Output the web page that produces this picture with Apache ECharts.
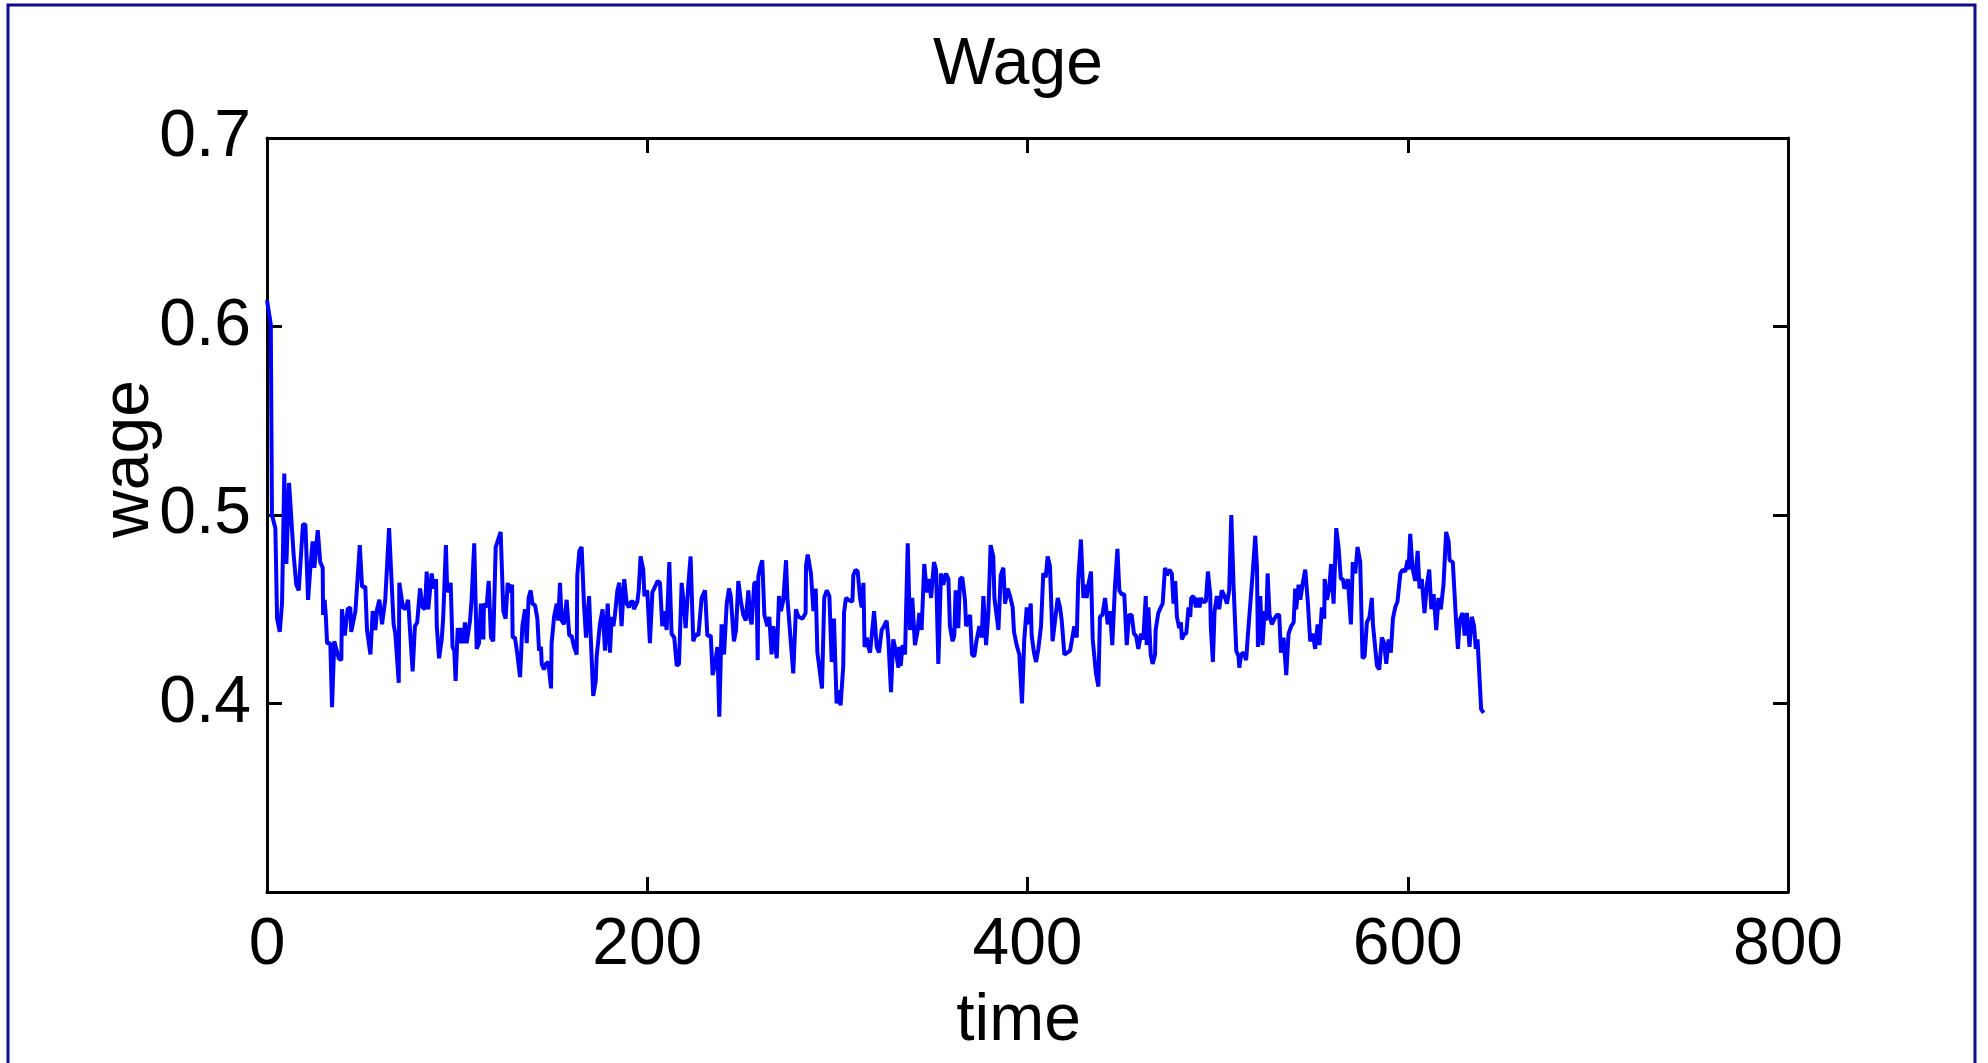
<!DOCTYPE html>
<html>
<head>
<meta charset="utf-8">
<title>Wage</title>
<script src="https://cdn.jsdelivr.net/npm/echarts@6/dist/echarts.min.js"></script>
<style>
	html, body { margin: 0; padding: 0; background: #fff; }
	#main { width: 1988px; height: 1063px; }
</style>
</head>
<body>
<div id="main"></div>
<script>
// time (x) of each vertex
var time = [
	0, 2, 2.6, 4.4, 5.3, 6.7, 7.9, 9.1, 10.2, 11.6, 14, 15.4, 16.7, 18.9, 20.2, 21.6, 22.8, 24, 24.9, 26.7,
	28, 29.3, 29.5, 30.3, 30.9, 31.6, 33.3, 34.2, 35.4, 37.7, 39.1, 39.4, 40.9, 42.4, 43.8, 44.3, 46.5, 48.8, 50, 51.7,
	52.6, 54.4, 55.6, 57, 57.9, 59.1, 60.5, 62.2, 64.2, 66.6, 67.5, 69.3, 69.6, 71.5, 72.8, 74.2, 76.6,
	77.8, 79, 80.5, 81.9, 83.1, 84, 84.8, 86.6, 87.8, 88.9, 89.3, 90.5, 91.9, 92.7, 94.1, 94.8, 95.4, 96.6, 97.6, 98.5,
	99.2, 100.3, 101.5, 102.4, 103.3, 104.1, 105, 105.9, 106.8, 107.6, 109, 110.3, 111.5, 112.5, 113.8, 114.1, 115.5, 116.6, 117.8, 119,
	120.3, 121.3, 122.9, 124.3, 125.5, 126.6, 127.5, 128.9, 129.2, 130.4, 131.7, 133.1, 134.3, 135.7, 136.6, 137.6, 138.7, 139.6, 141, 142.2,
	143.1, 144.1, 144.5, 145.7, 146.7, 148, 149.4, 149.7, 151, 152.4, 153.2,
	154.1, 155, 156.2, 157.6, 159, 160.2, 161.5, 162.9, 163.2, 164.3, 165.5, 166.7, 167.8, 169.4, 170.2, 171.6, 172.9, 173.4, 175.1, 176.5,
	177.8, 179.2, 180.4, 181.3, 182.2, 183, 184.3, 185.3, 186.5, 187.9, 189.2, 190.4, 191.4, 192.7, 193, 194.8, 195.5, 196.5, 197.9, 198.5,
	200, 201.4, 202.7, 204.1, 205.5, 206.7, 207.9, 209, 210.2, 211.6, 212.8, 214.2, 215.5, 216.7, 218.1, 219, 220.2, 221.6, 222.8, 224.2,
	225.6, 226.9, 228.6, 230.4, 231.6, 233.4,
	234.4, 235.6, 236.9, 237.9, 239.1, 240.4, 241.8, 243, 243.9, 245.6, 246.7, 247.9, 249.3, 250.5, 251.8, 253.2, 254, 254.9, 256.3, 257.5,
	258.1, 258.4, 259.3, 260.5, 261.6, 263.2, 264.2, 265.4, 266.3, 267.2, 268.1, 269.3, 270.3, 271.6, 273, 273.7, 274.7, 276.8, 278.2, 279.5,
	281.7, 283.3, 283.5, 284.4, 286.1, 287.4, 288.6, 289.5, 290.5, 291.9, 293.1, 294.4, 295.8, 297, 298.2, 299.6, 300.5, 301.7, 303.1, 303.5,
	304.5, 305.8, 306.6, 307.9, 308.4, 309.6, 310.7, 311.9, 312.8, 313.7,
	314.3, 315.4, 316.3, 317.2, 318.2, 319.3, 320.7, 321.9, 323.3, 324.5, 325.9, 326.8, 328.2, 329.4, 330.7, 332.1, 332.6, 333.3, 334.3, 335.6,
	337, 338.2, 339.4, 340.8, 342.1, 343.1, 344.3, 345.7, 347, 348.2, 349.3, 350.8, 351.9, 353.1, 354.5, 355.7, 357.1, 358.4, 359.2, 360.6,
	361.5, 362.2, 363.6, 364.5, 365.7, 367.1, 367.7, 368.5, 369.8, 370.8, 372, 373.3, 374.7, 375.9, 376.8, 378.2, 379.4, 380.6, 382, 382.6,
	383.4, 384.7, 385.9, 387.3, 388.2, 389.6, 390.8,
	392.2, 392.9, 394.3, 395.7, 397.1, 398.3, 399.6, 400.4, 401.7, 402.2, 403.4, 404.5, 405.7, 407.1, 408.3, 409.6, 410.6, 411.8, 413.2, 414.5,
	415.9, 417.1, 418, 419.4, 421, 422.4, 423.2, 424.6, 425.9, 426.7, 428.1, 429.4, 430.3, 431.1, 432, 433.4, 434.3, 436, 437.3, 438.1,
	439.4, 440.8, 441.7, 442.2, 443.4, 444.6, 446, 447.3, 448.3, 449.5, 450.9, 452.2, 453.4, 454.8, 456, 457.1, 458.3, 459.7, 460.9, 462.2,
	462.7, 463.6, 464.8, 465.8, 467.1, 467.4, 468.8, 470.1, 471.1,
	472.3, 473.3, 474.7, 475.9, 476.8, 477.7, 478.6, 479.8, 480.7, 481.2, 482.4, 483.5, 484.7, 485.6, 486.1, 487.3, 488.6, 489.6, 490.5, 491.2,
	492.2, 493.8, 494.9, 496.1, 496.4, 497.5, 498.4, 499.6, 500.8, 502.2, 503.6, 504.9, 506.1, 507.2, 508.4, 509.8, 511, 511.4, 512.4, 513.6,
	515, 515.9, 517.5, 518.5, 519.8, 520.7, 521.2, 522.4, 523.6, 524.7, 525.6, 526.3, 527.3, 528.5, 529.9, 531.2, 532.4, 533.3, 534.7, 536.1,
	537.3, 538.7, 540, 540.8, 541.3, 542.6, 543.5, 544.8, 546.1, 547.5,
	548.7, 550.1, 551.3, 552.6, 553.6, 554.8, 556.1, 556.3, 557.5, 558.7, 559.7, 561, 562.4, 563.6, 564.8, 565.9, 566.6, 567.6, 568.5, 570.1,
	571.1, 572.4, 573.6, 575, 576.2, 577.3, 578.5, 579.9, 581.1, 581.7, 582.5, 583.8, 585, 586.4, 587.6, 588.7, 589.9, 591.1, 592.2, 593.4,
	594.6, 596.1, 597.3, 598.7, 599.9, 600.4, 601.3, 602.5, 603.9, 605.2, 606.2, 607.4, 608.8, 610.1, 611.3, 612.4, 613.6, 615, 616.2, 617.4,
	618.8, 620.2, 621.5, 622, 623.7, 624.4, 625.5, 626.4, 627.3, 628.8, 629.9, 631.1, 632.5, 633.7, 634.9, 635.8, 636.7, 638.6, 639.9
];
// wage value at each of those times
var wage = [
	.614, .601, .500, .493, .445, .438, .453, .522, .474, .517, .479, .463, .460, .495, .495, .455, .472, .486, .472, .492,
	.475, .472, .447, .455, .447, .432, .432, .398, .433, .424, .423, .450, .436, .450, .451, .438, .449, .484, .462, .462,
	.439, .426, .449, .439, .450, .455, .442, .455, .493, .442, .437, .411, .464, .451, .450, .455, .417,
	.441, .443, .461, .451, .450, .470, .450, .469, .461, .466, .441, .424, .434, .446, .484, .459, .458, .464, .430, .428,
	.412, .440, .432, .440, .432, .443, .432, .431, .444, .455, .485, .429, .432, .453, .434, .453, .451, .465, .435, .433,
	.483, .483, .491, .449, .445, .464, .459, .463, .435, .435, .426, .414, .441, .450, .432, .456, .460, .453, .452, .445,
	.428, .430, .421, .418, .421, .422, .408, .432, .446, .453, .444,
	.464, .444, .442, .455, .436, .436, .430, .426, .468, .481, .483, .453, .435, .457, .437, .404, .412, .425, .442, .450,
	.428, .453, .427, .446, .441, .447, .460, .464, .441, .466, .453, .451, .454, .454, .450, .454, .460, .478, .471, .457,
	.460, .432, .459, .462, .465, .464, .441, .449, .439, .475, .437, .435, .420, .421, .464, .455, .440, .463, .478, .433,
	.437, .436, .456, .460, .436, .436,
	.415, .421, .430, .393, .442, .426, .453, .461, .457, .433, .439, .465, .454, .447, .444, .460, .446, .442, .464, .464,
	.423, .467, .472, .476, .447, .441, .446, .426, .441, .442, .424, .457, .449, .455, .476, .456, .455, .416, .450, .446,
	.445, .448, .473, .479, .469, .449, .461, .427, .427, .408, .456, .460, .457, .422, .445, .400, .407, .399, .420, .448,
	.456, .455, .456, .454, .468, .471, .470, .456, .451, .464,
	.430, .435, .430, .427, .426, .449, .430, .427, .439, .441, .444, .434, .406, .434, .428, .419, .430, .420, .431, .426,
	.485, .439, .456, .431, .438, .448, .439, .474, .459, .466, .456, .475, .471, .421, .469, .463, .469, .466, .441, .433,
	.436, .460, .440, .466, .467, .455, .441, .442, .447, .426, .425, .434, .441, .435, .457, .431, .448, .484, .478, .456,
	.456, .439, .468, .472, .453, .461, .457,
	.451, .438, .431, .426, .400, .434, .451, .442, .453, .436, .427, .422, .429, .441, .469, .467, .478, .473, .433, .444,
	.456, .451, .444, .426, .427, .428, .429, .441, .435, .466, .487, .456, .463, .456, .463, .470, .434, .416, .409, .446,
	.447, .456, .455, .442, .449, .431, .462, .482, .460, .458, .458, .431, .447, .447, .437, .436, .429, .437, .434, .457,
	.431, .451, .426, .421, .426, .439, .448, .451, .453,
	.472, .468, .471, .469, .453, .465, .446, .440, .443, .434, .437, .437, .451, .446, .456, .457, .451, .456, .451, .456,
	.454, .454, .470, .458, .441, .422, .449, .457, .450, .460, .457, .453, .460, .500, .462, .428, .425, .419, .426, .427,
	.423, .436, .457, .470, .489, .472, .430, .457, .431, .449, .444, .469, .447, .442, .445, .447, .447, .427, .435, .415,
	.437, .441, .443, .461, .450, .463, .455, .464, .471, .453,
	.433, .437, .429, .442, .431, .451, .445, .466, .455, .461, .474, .453, .493, .483, .466, .466, .461, .463, .466, .442,
	.475, .469, .483, .475, .424, .425, .443, .446, .456, .442, .442, .420, .418, .435, .432, .421, .434, .427, .445, .451,
	.454, .469, .471, .470, .476, .471, .490, .472, .465, .481, .461, .466, .448, .463, .471, .450, .458, .439, .456, .450,
	.463, .491, .486, .476, .475, .475, .442, .429, .444, .448, .436, .448, .430, .446, .441, .429, .434, .397, .395
];
// axis ticks
var xTicks = [0, 200, 400, 600, 800];
var yTicks = [0.3, 0.4, 0.5, 0.6, 0.7];

var FONT = "'Liberation Sans', Arial, sans-serif";
var FONT_SIZE = 66;

drawWage();

// frame line + inward ticks, a fresh object for every axis
function frameAxis(extra){
	var ax = {
		type: 'value',
		axisLine: { onZero: false, lineStyle: { color: '#000', width: 3 } },
		axisTick: { inside: true, length: 15, lineStyle: { color: '#000', width: 3 } },
		splitLine: { show: false },
		axisLabel: { show: false }
	};
	for (var k in extra) ax[k] = extra[k];
	return ax;
}

function drawWage(){
	var myChart = echarts.init(document.getElementById('main'));
	var points = time.map(function(t, i){ return [t, wage[i]]; });

	var xRange = { min: xTicks[0], max: xTicks[xTicks.length - 1], interval: xTicks[1] - xTicks[0] };
	var yRange = { min: yTicks[0], max: yTicks[yTicks.length - 1], interval: 0.1 };

	var option = {
		animation: false,
		backgroundColor: '#fff',
		title: {
			text: 'Wage',
			left: 1013,
			top: 28,
			textAlign: 'center',
			textStyle: { fontFamily: FONT, fontSize: FONT_SIZE, fontWeight: 'normal', color: '#000' }
		},
		grid: { left: 267, top: 138, right: 200, bottom: 171 },
		// blue frame round the figure
		graphic: [{
			type: 'rect',
			silent: true,
			z: -1,
			shape: { x: 8, y: 5, width: 1967, height: 1070 },
			style: { fill: 'none', stroke: '#0c0c8c', lineWidth: 3 }
		}],
		xAxis: [
			frameAxis({
				min: xRange.min, max: xRange.max, interval: xRange.interval,
				position: 'bottom',
				name: 'time',
				nameLocation: 'middle',
				nameGap: 97,
				nameTextStyle: { fontFamily: FONT, fontSize: FONT_SIZE, color: '#000', padding: [0, 18, 0, 0] },
				axisLabel: {
					show: true,
					margin: 21,
					color: '#000',
					fontFamily: FONT,
					fontSize: FONT_SIZE
				}
			}),
			frameAxis({
				min: xRange.min, max: xRange.max, interval: xRange.interval,
				position: 'top'
			})
		],
		yAxis: [
			frameAxis({
				min: yRange.min, max: yRange.max, interval: yRange.interval,
				position: 'left',
				name: 'wage',
				nameLocation: 'middle',
				nameGap: 104,
				nameMoveOverlap: false,
				nameTextStyle: { fontFamily: FONT, fontSize: FONT_SIZE, color: '#000', padding: [0, 0, 0, 112] },
				axisLabel: {
					show: true,
					margin: 16,
					color: '#000',
					fontFamily: FONT,
					fontSize: FONT_SIZE,
					formatter: function(v){
						if (Math.abs(v - yTicks[0]) < 1e-6) return '';
						return v.toFixed(1);
					}
				}
			}),
			frameAxis({
				min: yRange.min, max: yRange.max, interval: yRange.interval,
				position: 'right'
			})
		],
		series: [
			{
				name: 'wage',
				type: 'line',
				xAxisIndex: 0,
				yAxisIndex: 0,
				showSymbol: false,
				symbol: 'none',
				lineStyle: { color: '#0000ff', width: 4 },
				data: points
			}
		]
	};
	myChart.setOption(option);
}
</script>
</body>
</html>
